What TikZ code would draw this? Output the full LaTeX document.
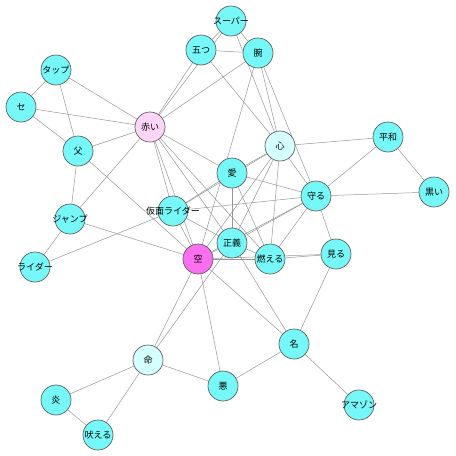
\documentclass[tikz,border=0pt]{standalone}
\usepackage{fontspec}
\newfontfamily\jp{Noto Sans CJK JP}
\newcommand{\lb}[1]{\makebox[0pt][c]{#1}}
\pgfdeclarelayer{bg}
\pgfsetlayers{bg,main}
\definecolor{nodecyan}{RGB}{118,248,248}
\definecolor{nodelight}{RGB}{212,255,255}
\definecolor{nodepink}{RGB}{255,214,250}
\definecolor{nodemag}{RGB}{250,112,240}
\definecolor{rimgray}{RGB}{95,95,95}
\definecolor{edgegray}{RGB}{150,150,150}
\begin{document}
\begin{tikzpicture}[x=1pt,y=-1pt,
  vtx/.style={circle,draw=rimgray,line width=0.7pt,fill=nodecyan,minimum size=30pt,inner sep=0pt,font=\jp\fontsize{9}{10}\selectfont},
  vlight/.style={vtx,fill=nodelight},
  vpink/.style={vtx,fill=nodepink},
  vmag/.style={vtx,fill=nodemag},
  lnk/.style={draw=edgegray,line width=0.5pt}]
\useasboundingbox (0,0) rectangle (456,456);
\node[vtx] (super) at (231,21) {\lb{スーパー}};
\node[vtx] (itsu) at (201,50) {\lb{五つ}};
\node[vtx] (ude) at (258,53) {\lb{腕}};
\node[vtx] (tap) at (56,70) {\lb{タップ}};
\node[vtx] (se) at (21,107) {\lb{セ}};
\node[vpink] (akai) at (150,127) {\lb{赤い}};
\node[vtx] (chichi) at (78,151) {\lb{父}};
\node[vlight] (kokoro) at (280,146) {\lb{心}};
\node[vtx] (heiwa) at (388,137) {\lb{平和}};
\node[vtx] (kuroi) at (434,192) {\lb{黒い}};
\node[vtx] (mamoru) at (316,196) {\lb{守る}};
\node[vtx] (ai) at (232,173) {\lb{愛}};
\node[vtx] (kamen) at (173,211) {\lb{仮面ライダー}};
\node[vtx] (jump) at (70,219) {\lb{ジャンプ}};
\node[vtx] (seigi) at (232,243) {\lb{正義}};
\node[vmag] (sora) at (198,259) {\lb{空}};
\node[vtx] (moeru) at (270,259) {\lb{燃える}};
\node[vtx] (miru) at (336,254) {\lb{見る}};
\node[vtx] (rider) at (35,267) {\lb{ライダー}};
\node[vtx] (na) at (294,344) {\lb{名}};
\node[vlight] (inochi) at (148,360) {\lb{命}};
\node[vtx] (aku) at (223,386) {\lb{悪}};
\node[vtx] (honoo) at (56,400) {\lb{炎}};
\node[vtx] (amazon) at (359,405) {\lb{アマゾン}};
\node[vtx] (hoeru) at (98,435) {\lb{吠える}};
\begin{pgfonlayer}{bg}
\foreach \a/\b in {tap/se,tap/chichi,tap/akai,se/akai,se/chichi,chichi/akai,chichi/jump,chichi/sora,
  jump/rider,jump/sora,jump/akai,rider/kamen,
  akai/itsu,akai/super,akai/ude,akai/ai,akai/kamen,akai/sora,akai/seigi,akai/moeru,
  super/itsu,super/ude,itsu/ude,super/kokoro,ude/kokoro,itsu/kokoro,ude/mamoru,ude/sora,
  kokoro/heiwa,heiwa/kuroi,heiwa/mamoru,mamoru/kuroi,
  kokoro/ai,kokoro/mamoru,kokoro/kamen,kokoro/sora,kokoro/seigi,kokoro/moeru,
  ai/mamoru,ai/seigi,ai/kamen,ai/moeru,
  mamoru/kamen,mamoru/seigi,mamoru/moeru,mamoru/miru,mamoru/sora,
  kamen/sora,kamen/seigi,seigi/sora,seigi/moeru,sora/moeru,sora/miru,moeru/miru,
  miru/na,seigi/na,sora/na,na/amazon,na/aku,sora/aku,sora/inochi,seigi/inochi,
  inochi/honoo,inochi/hoeru,inochi/aku,honoo/hoeru}
  \draw[lnk] (\a) -- (\b);
\end{pgfonlayer}
\end{tikzpicture}
\end{document}
